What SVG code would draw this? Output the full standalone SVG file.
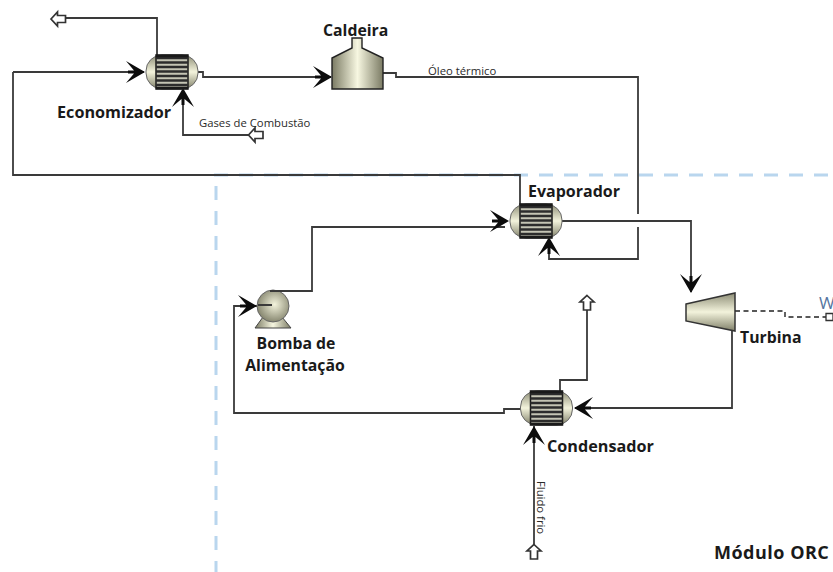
<svg xmlns="http://www.w3.org/2000/svg" width="833" height="572" viewBox="0 0 833 572">
<style>
.c{fill:none;stroke:#3a3a3a;stroke-width:1.8}
.d{fill:none;stroke:#b9d6ee;stroke-width:3;stroke-dasharray:14 11}
.w{fill:none;stroke:#222;stroke-width:1.4;stroke-dasharray:5 3.500}
.a{fill:#0c0c0c}
.p{fill:#fff;stroke:#333;stroke-width:1.700}
.t{font-family:"Open Sans","Noto Sans",sans-serif;font-weight:700;font-size:15.800px;fill:#1a1a1a}
.s{font-family:"Open Sans","Noto Sans",sans-serif;font-size:11.300px;fill:#2a2a2a}
</style>
<defs>
<linearGradient id="g" x1="0" y1="0" x2="0" y2="1"><stop offset="0" stop-color="#8d8d76"/><stop offset=".5" stop-color="#f3f3dc"/><stop offset="1" stop-color="#808069"/></linearGradient>
<linearGradient id="h" x1="0" y1="0" x2="1" y2="0"><stop offset="0" stop-color="#7b7b64"/><stop offset=".5" stop-color="#f7f7e1"/><stop offset="1" stop-color="#7b7b64"/></linearGradient>
<radialGradient id="r" cx=".55" cy=".45" r=".6"><stop offset="0" stop-color="#f3f3dc"/><stop offset="1" stop-color="#7e7e67"/></radialGradient>
<g id="hx">
<rect x="-26" y="-17" width="52" height="34" rx="16" fill="url(#g)" stroke="#666" stroke-width="1"/>
<rect x="-16" y="-17" width="32" height="34" fill="#c4c4b4" stroke="#1a1a1a" stroke-width="1.500"/>
<path d="M-16-14H16M-16-9.500H16M-16-5H16M-16-.5H16M-16 4H16M-16 8.500H16M-16 13H16" stroke="#2c2c2c" stroke-width="2.300"/>
<path d="M-16-16H16M-16 16H16" stroke="#1a1a1a" stroke-width="2.500"/>
</g>
<path id="ar" class="a" d="M0 0L-19-11L-11-1.500H-17V1.500H-11L-19 11Z"/>
<path id="op" class="p" d="M0-7.500L7-1H3.500V7H-3.500V-1H-7Z"/>
</defs>
<g id="boundary">
<path class="d" d="M214 175H833"/>
<path class="d" d="M216 186V572"/>
</g>
<g id="connectors">
<path class="c" d="M157 55V18H66"/>
<path class="c" d="M13 72H144"/>
<path class="c" d="M13 72V175H520V205"/>
<path class="c" d="M198 72H203V77H331"/>
<path class="c" d="M183 90V135H249"/>
<path class="c" d="M383 73H396V77H638V214"/>
<path class="c" d="M638 227V259H549V240"/>
<path class="c" d="M270 291H312V227H505"/>
<path class="c" d="M562 221H691V292"/>
<path class="c" d="M732 326V408H575"/>
<path class="c" d="M521 409H504V413H234V306H260"/>
<path class="c" d="M560 392V380H587V310"/>
<path class="c" d="M534 426V545"/>
<path class="w" d="M735 311H785V317H826"/>
<use href="#ar" x="145" y="72"/>
<use href="#ar" x="332" y="77"/>
<use href="#ar" x="509" y="221"/>
<use href="#ar" x="257" y="306"/>
<use href="#ar" transform="translate(183 88) rotate(-90)"/>
<use href="#ar" transform="translate(549 237) rotate(-90)"/>
<use href="#ar" transform="translate(534 426) rotate(-90)"/>
<use href="#ar" transform="translate(691 293) rotate(90)"/>
<use href="#ar" transform="translate(574 408) rotate(180)"/>
<use href="#op" transform="translate(58.500 19) rotate(-90)"/>
<use href="#op" transform="translate(256 135) rotate(-90)"/>
<use href="#op" x="587" y="303"/>
<use href="#op" x="534" y="552"/>
<path d="M826 313.500h7v7h-7z" fill="none" stroke="#333" stroke-width="1.300"/>
</g>
<g id="economizador">
<use href="#hx" x="172" y="72"/>
<text class="t" x="57" y="118" style="font-size:16.200px">Economizador</text>
</g>
<g id="caldeira">
<path d="M352 38H362V48L383 58V89H332V58L352 48Z" fill="url(#h)" stroke="#222" stroke-width="1.400"/>
<text class="t" x="323" y="36">Caldeira</text>
</g>
<g id="evaporador">
<use href="#hx" x="536" y="221"/>
<text class="t" x="528" y="197" style="font-size:16px">Evaporador</text>
</g>
<g id="bomba">
<path d="M255 328L263 317H282L291 328Z" fill="url(#h)" stroke="#444"/>
<circle cx="273" cy="306" r="16" fill="url(#r)" stroke="#666"/>
<path class="c" d="M258 305H272M270 291H283"/>
<text class="t" text-anchor="middle" x="296" y="349">Bomba de</text>
<text class="t" text-anchor="middle" x="295" y="371">Alimentação</text>
</g>
<g id="turbina">
<path d="M686 304L735 293V331L686 321Z" fill="url(#g)" stroke="#333" stroke-width="1.500"/>
<text class="t" x="740" y="343">Turbina</text>
</g>
<g id="condensador">
<use href="#hx" x="546.500" y="408"/>
<text class="t" x="547" y="452" style="font-size:16.200px">Condensador</text>
</g>
<g id="labels">
<text class="s" x="199" y="127">Gases de Combustão</text>
<text class="s" x="428" y="75">Óleo térmico</text>
<text class="s" transform="translate(537 481) rotate(90)">Fluido frio</text>
<text class="t" x="714" y="559" style="font-size:18px;letter-spacing:.5px">Módulo ORC</text>
<text x="819" y="309" font-family="Open Sans,sans-serif" font-size="17" fill="#55759f">W</text>
</g>
</svg>
